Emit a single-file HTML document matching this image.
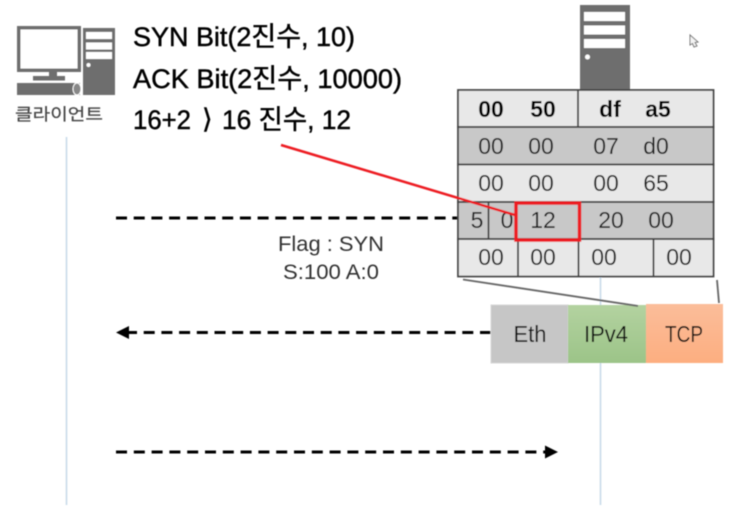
<!DOCTYPE html>
<html><head><meta charset="utf-8"><style>
html,body{margin:0;padding:0;background:#fff;width:741px;height:514px;overflow:hidden}
svg{display:block}
text{font-family:"Liberation Sans","Noto Sans CJK KR",sans-serif}
.b{font-size:27px;fill:#000;stroke:#000;stroke-width:.45}
.c{font-size:23px;fill:#222;text-anchor:middle}
.h{font-size:23px;fill:#000;font-weight:bold;text-anchor:middle}
.l{font-size:21px;fill:#333;text-anchor:middle}
.p{font-size:23px;fill:#111;text-anchor:middle}
</style></head><body>
<svg width="741" height="514" viewBox="0 0 741 514" xmlns="http://www.w3.org/2000/svg">
<defs>
<filter id="s" x="-2%" y="-2%" width="104%" height="104%"><feGaussianBlur stdDeviation="0.4"/></filter>
<linearGradient id="g" x1="0" y1="0" x2="0" y2="1"><stop offset="0" stop-color="#b3d2a0"/><stop offset="1" stop-color="#9cc488"/></linearGradient>
<linearGradient id="o" x1="0" y1="0" x2="0" y2="1"><stop offset="0" stop-color="#fbbd9a"/><stop offset="1" stop-color="#fdae80"/></linearGradient>
</defs>
<rect width="741" height="514" fill="#fff"/>
<g filter="url(#s)">
<!-- lifelines -->
<line x1="66.5" y1="137" x2="66.5" y2="505" stroke="#c5d8e8" stroke-width="1.5"/>
<line x1="600.5" y1="270" x2="600.5" y2="505" stroke="#c5d8e8" stroke-width="1.5"/>
<!-- client icon -->
<g fill="#6e6e6e">
<rect x="17" y="26" width="64" height="46"/>
<rect x="20.5" y="29.5" width="57" height="39" fill="#fff"/>
<rect x="49" y="72" width="8" height="5"/>
<rect x="33" y="76" width="32" height="4.500"/>
<rect x="17" y="83" width="63" height="12"/>
<rect x="83" y="28" width="32" height="67"/>
<rect x="86" y="32" width="26" height="7" fill="#fff"/>
<rect x="86" y="42.500" width="26" height="7" fill="#fff"/>
<rect x="86" y="52" width="26" height="7" fill="#fff"/>
<circle cx="88.500" cy="65" r="2" fill="#fff"/>
<ellipse cx="77" cy="89" rx="4" ry="6" fill="#888" stroke="#fff" stroke-width="1"/>
</g>
<text x="59" y="120" font-size="16.500" fill="#444" stroke="#444" stroke-width=".2" text-anchor="middle" textLength="88" lengthAdjust="spacingAndGlyphs">클라이언트</text>
<!-- big text -->
<text class="b" x="133" y="46" textLength="222" lengthAdjust="spacingAndGlyphs">SYN Bit(2진수, 10)</text>
<text class="b" x="133" y="88" textLength="269" lengthAdjust="spacingAndGlyphs">ACK Bit(2진수, 10000)</text>
<text class="b" x="133" y="129" textLength="58" lengthAdjust="spacingAndGlyphs">16+2</text>
<text class="b" x="202" y="128" font-size="25" style="font-family:'DejaVu Sans',sans-serif">⟩</text>
<text class="b" x="222" y="129" textLength="129" lengthAdjust="spacingAndGlyphs">16 진수, 12</text>
<!-- server icon -->
<g>
<rect x="580" y="5" width="50" height="86" fill="#6e6e6e"/>
<rect x="584" y="12" width="41" height="9" fill="#fff"/>
<rect x="584" y="25.500" width="41" height="9" fill="#fff"/>
<rect x="584" y="39" width="41" height="9" fill="#fff"/>
<circle cx="587.500" cy="57" r="2.500" fill="#fff"/>
</g>
<!-- cursor -->
<path d="M690 35 L690 45 L692.500 43.500 L694 47 L697 46 L695 42.500 L698 42 Z" fill="#f4f4f4" stroke="#777" stroke-width="1"/>
<!-- dashed connectors -->
<line x1="116" y1="218" x2="470" y2="218" stroke="#000" stroke-width="3" stroke-dasharray="11 6.700"/>
<line x1="126" y1="332.500" x2="491" y2="332.500" stroke="#000" stroke-width="3" stroke-dasharray="11 6.700"/>
<path d="M116 332.500 L129 326 L129 339 Z" fill="#000"/>
<line x1="116" y1="452" x2="546" y2="452" stroke="#000" stroke-width="3" stroke-dasharray="11 6.800"/>
<path d="M558 452 L545 445.500 L545 458.500 Z" fill="#000"/>
<text class="l" x="331" y="251" textLength="106" lengthAdjust="spacingAndGlyphs">Flag : SYN</text>
<text class="l" x="331" y="279" textLength="96" lengthAdjust="spacingAndGlyphs">S:100 A:0</text>
<!-- table -->
<g stroke="#444" stroke-width="1.800">
<rect x="458" y="90" width="255.500" height="37" fill="#e8e8e8"/>
<rect x="458" y="127" width="255.500" height="37.500" fill="#c8c8c8"/>
<rect x="458" y="164.500" width="255.500" height="37.500" fill="#e8e8e8"/>
<rect x="458" y="202" width="255.500" height="37" fill="#c8c8c8"/>
<rect x="458" y="239" width="255.500" height="37.500" fill="#e8e8e8"/>
<line x1="578" y1="90" x2="578" y2="127"/>
<line x1="488.500" y1="202" x2="488.500" y2="239"/>
<line x1="518" y1="239" x2="518" y2="276.500"/>
<line x1="578.500" y1="239" x2="578.500" y2="276.500"/>
<line x1="653.500" y1="239" x2="653.500" y2="276.500"/>
</g>
<text class="h" x="491" y="117">00</text><text class="h" x="543" y="117">50</text>
<text class="h" x="610" y="117">df</text><text class="h" x="658" y="117">a5</text>
<text class="c" x="491" y="154">00</text><text class="c" x="541" y="154">00</text>
<text class="c" x="606" y="154">07</text><text class="c" x="656" y="154">d0</text>
<text class="c" x="491" y="191">00</text><text class="c" x="541" y="191">00</text>
<text class="c" x="606" y="191">00</text><text class="c" x="656" y="191">65</text>
<text class="c" x="477" y="228">5</text><text class="c" x="507" y="228">0</text>
<text class="c" x="543" y="228">12</text>
<text class="c" x="611" y="228">20</text><text class="c" x="661" y="228">00</text>
<text class="c" x="491" y="265">00</text><text class="c" x="543" y="265">00</text>
<text class="c" x="604" y="265">00</text><text class="c" x="679" y="265">00</text>
<!-- protocol boxes -->
<rect x="491" y="305" width="77" height="58" fill="#c6c6c6" stroke="#d6d6d6"/>
<rect x="568" y="305" width="78" height="58" fill="url(#g)"/>
<rect x="646" y="304" width="77" height="59" fill="url(#o)"/>
<text class="p" x="530" y="342" textLength="33" lengthAdjust="spacingAndGlyphs">Eth</text>
<text class="p" x="606" y="342" textLength="44" lengthAdjust="spacingAndGlyphs">IPv4</text>
<text class="p" x="684" y="342" textLength="38" lengthAdjust="spacingAndGlyphs">TCP</text>
<!-- grey zoom lines -->
<line x1="463" y1="279.500" x2="638" y2="306" stroke="#666" stroke-width="1.800"/>
<line x1="717" y1="280" x2="719" y2="303" stroke="#666" stroke-width="1.800"/>
<!-- red -->
<line x1="281" y1="145" x2="515" y2="215" stroke="#ed1c24" stroke-width="2.500"/>
<rect x="516" y="203" width="63.500" height="37" fill="none" stroke="#ed1c24" stroke-width="3.500"/>
</g>
</svg>
</body></html>
